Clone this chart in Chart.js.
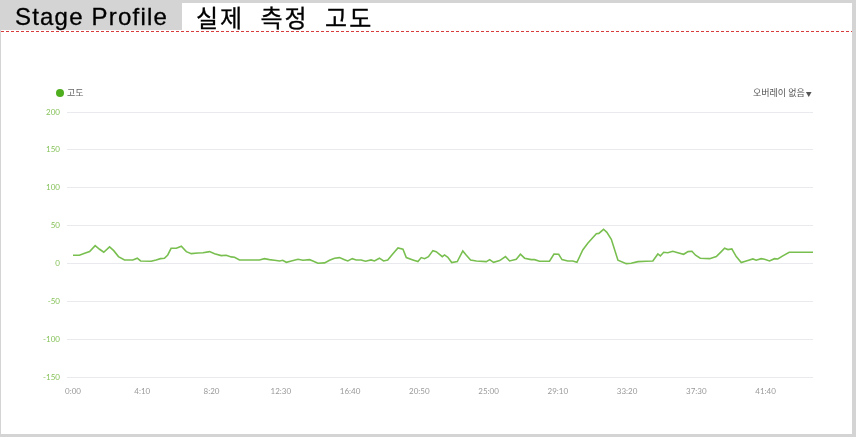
<!DOCTYPE html>
<html>
<head>
<meta charset="utf-8">
<script src="https://cdn.jsdelivr.net/npm/chart.js@4/dist/chart.umd.min.js"></script>
<style>
  html, body { margin: 0; padding: 0; }
  body { width: 856px; height: 437px; background: #d4d4d4; position: relative; overflow: hidden;
         font-family: "Liberation Sans", "Noto Sans CJK KR", sans-serif; }
  #panel { position: absolute; left: 1px; top: 3px; width: 851px; height: 431px; background: #fff; }
  #title { position: absolute; left: 1px; top: 3px; height: 27px; width: 181px; background: #d4d4d4;
           font-size: 24px; line-height: 27px; color: #000; padding-left: 14px; box-sizing: border-box;
           letter-spacing: 1.2px; -webkit-text-stroke: 0.3px #000; }
  #subtitle { position: absolute; left: 196px; top: 3px; height: 27px; font-size: 24px; line-height: 27px;
              color: #000; letter-spacing: 2px; word-spacing: 9px; -webkit-text-stroke: 0.3px #000;
              font-family: "Noto Sans CJK KR", sans-serif; }
  #rule { position: absolute; left: 1px; top: 31px; width: 851px; height: 1px; }
  #legend { position: absolute; left: 56px; top: 86px; font-size: 9px; color: #666; line-height: 14px;
            font-family: "Noto Sans CJK KR", sans-serif; }
  #legend span.dot { display: inline-block; width: 8px; height: 8px; border-radius: 50%; background: #4fae1e;
                     vertical-align: -1px; margin-right: 3px; }
  #overlay { position: absolute; left: 753px; top: 86px; font-size: 9px; color: #555; line-height: 14px;
             font-family: "Noto Sans CJK KR", sans-serif; }
  canvas { position: absolute; left: 0; top: 0; }
</style>
</head>
<body>
<div id="panel"></div>
<canvas id="profileChart" width="856" height="437"></canvas>
<div id="title">Stage Profile</div>
<div id="subtitle">실제 측정 고도</div>
<svg id="rule" width="851" height="1"><line x1="0" y1="0.5" x2="851" y2="0.5" stroke="#d83c3c" stroke-width="1" stroke-dasharray="3 2"/></svg>
<div id="legend"><span class="dot"></span>고도</div>
<div id="overlay">오버레이 없음<span style="font-size:6px; margin-left:1px">▼</span></div>
<script>
// elapsed time (seconds) and elevation (m)
const times = [
  0, 23, 42, 60, 80, 96, 111, 132, 147, 164, 186, 216, 232, 244, 282, 300, 316, 330, 342, 354,
  373, 391, 409, 427, 451, 469, 493, 511, 535, 553, 571, 583, 601, 673, 691, 709, 727, 746, 757, 770,
  788, 812, 830, 854, 866, 884, 908, 926, 944, 962, 980, 992, 1008, 1022, 1040, 1056, 1076, 1088, 1106, 1121,
  1136, 1154, 1173, 1191, 1203, 1227, 1245, 1257, 1269, 1283, 1299, 1311, 1333, 1341, 1353, 1367, 1387, 1407, 1419, 1435,
  1456, 1492, 1504, 1518, 1540, 1561, 1576, 1600, 1615, 1630, 1654, 1666, 1684, 1720, 1736, 1753, 1765, 1786, 1804, 1819,
  1840, 1858, 1889, 1898, 1915, 1927, 1943, 1967, 1997, 2015, 2039, 2069, 2093, 2111, 2120, 2132, 2147, 2165, 2183, 2204,
  2220, 2234, 2247, 2264, 2298, 2322, 2340, 2352, 2364, 2378, 2394, 2412, 2430, 2454, 2466, 2484, 2496, 2514, 2532, 2544,
  2562, 2585, 2671
];
const elevation = [
  10.8, 10.8, 13.4, 15.6, 23.5, 18.7, 14.8, 21.8, 16.9, 9.0, 4.6, 4.6, 6.9, 3.3, 2.9, 4.6, 6.3, 6.9, 11.2, 20,
  20, 22.7, 15.6, 12.9, 13.8, 14.2, 15.6, 12.9, 10.3, 10.8, 8.6, 8.1, 4.6, 4.6, 6.3, 5.0, 4.2, 3.3, 4.2, 1.5,
  3.3, 5.5, 4.2, 5.0, 3.3, 0.2, 0.7, 4.2, 6.9, 7.7, 5.0, 3.3, 6.3, 4.6, 4.6, 2.9, 4.6, 3.3, 6.9, 3.3,
  4.6, 12.5, 20.4, 18.7, 7.7, 4.6, 2.4, 7.7, 6.3, 9.0, 16.9, 15.6, 9.0, 11.2, 8.1, 1.1, 2.4, 16.5, 11.2, 4.6,
  3.3, 2.4, 5.0, 1.5, 3.7, 9.0, 3.3, 5.5, 12.1, 6.9, 5.0, 5.0, 2.9, 2.9, 12.5, 12.1, 5.0, 3.3, 3.3, 1.5,
  17.8, 26.6, 39.3, 39.7, 45.1, 41.1, 31.9, 4.2, -0.3, 0.2, 2.4, 2.9, 3.3, 12.5, 9.9, 14.8, 14.2, 16.1, 14.2, 12.1,
  15.6, 16.1, 10.8, 6.9, 6.3, 9.0, 15.6, 20.0, 18.3, 19.2, 9.0, 1.1, 3.3, 5.9, 4.2, 6.3, 5.5, 3.3, 6.3, 5.9,
  9.9, 14.8, 14.8
];
const timeStep = 250;   // x tick every 4:10
const yTicks = [-150, -100, -50, 0, 50, 100, 150, 200];

function fmtTime(sec) {
  const m = Math.floor(sec / 60);
  const s = sec % 60;
  return m + ":" + (s < 10 ? "0" : "") + s;
}

const ctx = document.getElementById("profileChart").getContext("2d");

new Chart(ctx, {
  type: "line",
  data: {
    datasets: [{
      label: "고도",
      data: times.map((t, i) => ({ x: t, y: elevation[i] })),
      borderColor: "#78bf50",
      borderWidth: 1.6,
      pointRadius: 0,
      tension: 0,
      fill: false
    }]
  },
  options: {
    responsive: false,
    animation: false,
    layout: { padding: { left: 0, right: 43, top: 112, bottom: 40 } },
    plugins: { legend: { display: false }, tooltip: { enabled: false } },
    scales: {
      x: {
        type: "linear",
        min: 0,
        max: times[times.length - 1],
        afterBuildTicks: axis => {
          axis.ticks = axis.ticks.filter(t => t.value % timeStep === 0);
        },
        afterFit: axis => { axis.height = 20; },
        ticks: {
          stepSize: timeStep,
          autoSkip: false,
          maxRotation: 0,
          padding: 2,
          color: "#999",
          font: { family: "Lato, 'Open Sans', sans-serif", size: 8 },
          callback: v => fmtTime(v)
        },
        grid: { display: false },
        border: { display: false }
      },
      y: {
        min: yTicks[0],
        max: yTicks[yTicks.length - 1],
        afterFit: axis => { axis.width = 73; },
        ticks: {
          stepSize: 50,
          padding: 7,
          color: "#86c25a",
          font: { family: "Lato, 'Open Sans', sans-serif", size: 8 }
        },
        grid: { color: "#e9eaee", tickLength: 6, lineWidth: 1 },
        border: { display: false }
      }
    }
  }
});
</script>
</body>
</html>
